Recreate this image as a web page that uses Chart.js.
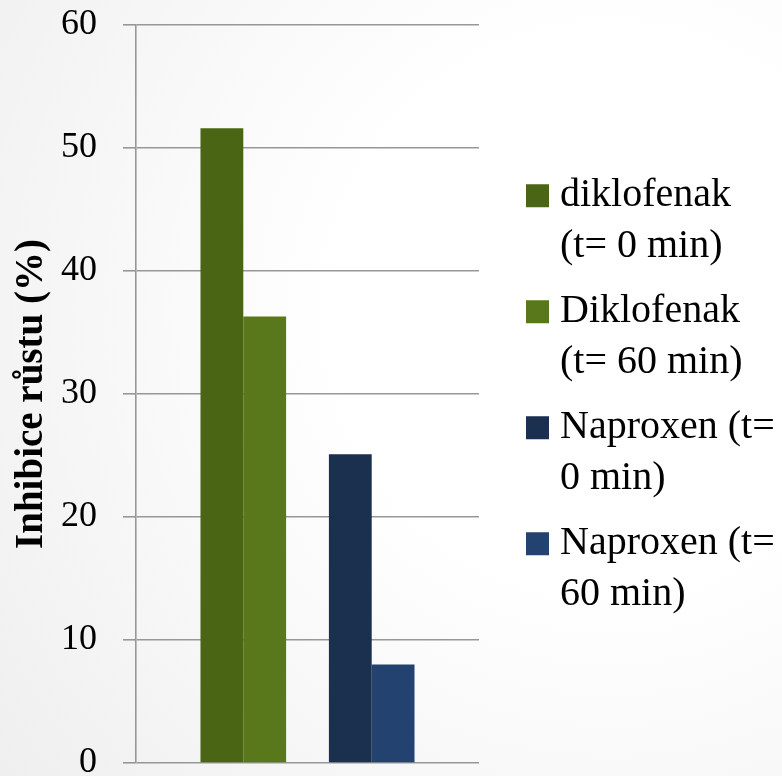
<!DOCTYPE html>
<html lang="cs">
<head>
<meta charset="utf-8">
<title>Inhibice růstu</title>
<script src="https://cdn.jsdelivr.net/npm/chart.js@4/dist/chart.umd.min.js"></script>
<style>
  html, body { margin: 0; padding: 0; }
  body {
    width: 782px; height: 776px; overflow: hidden;
    background: radial-gradient(circle at 78% 40%, #ffffff 35%, #ebebeb 115%);
  }
  #wrap { position: relative; width: 782px; height: 776px; }
</style>
</head>
<body>
<div id="wrap"><canvas id="chart" width="782" height="776"></canvas></div>
<script>
// Single category; series are drawn side by side, with an empty slot between the drugs
const categories = [''];
const diklofenak0 = [51.6];
const diklofenak60 = [36.3];
const emptySlot = [null];
const naproxen0 = [25.1];
const naproxen60 = [8.0];

const seriesNames = ['diklofenak (t= 0 min)', 'Diklofenak (t= 60 min)', 'Naproxen (t= 0 min)', 'Naproxen (t= 60 min)'];
const legendLines = [
  ['diklofenak', '(t= 0 min)'],
  ['Diklofenak', '(t= 60 min)'],
  ['Naproxen (t=', '0 min)'],
  ['Naproxen (t=', '60 min)']
];
const seriesColors = ['#4a6614', '#58781b', '#1b2f4f', '#244270'];
const yTickValues = [0, 10, 20, 30, 40, 50, 60];
const yTitle = 'Inhibice růstu (%)';

const gridColor = '#979797';
const serif = '"Liberation Serif", "Times New Roman", serif';

// Legend drawn to the right of the plot: square swatch + wrapped label lines
const sideLegend = {
  id: 'sideLegend',
  afterDraw(chart) {
    const { ctx, chartArea } = chart;
    const fontSize = 40, lineH = 50.5, gap = 15, box = 23;
    const blockH = legendLines.reduce((h, l) => h + l.length * lineH, 0) + gap * (legendLines.length - 1);
    let top = (chart.height - blockH) / 2 + 7;
    const boxX = chartArea.right + 47;
    const textX = boxX + box + 11;
    ctx.save();
    ctx.font = fontSize + 'px ' + serif;
    ctx.textAlign = 'left';
    ctx.textBaseline = 'middle';
    legendLines.forEach((lines, i) => {
      const firstMid = top + lineH / 2;
      ctx.fillStyle = seriesColors[i];
      ctx.fillRect(boxX, firstMid - box / 2, box, box);
      ctx.fillStyle = '#000000';
      lines.forEach((t, j) => ctx.fillText(t, textX, firstMid + j * lineH));
      top += lines.length * lineH + gap;
    });
    ctx.restore();
  }
};

const makeSet = (label, data, color) => ({
  label, data, backgroundColor: color, borderWidth: 0,
  categoryPercentage: 0.624, barPercentage: 1.0
});

new Chart(document.getElementById('chart'), {
  type: 'bar',
  data: {
    labels: categories,
    datasets: [
      makeSet(seriesNames[0], diklofenak0, seriesColors[0]),
      makeSet(seriesNames[1], diklofenak60, seriesColors[1]),
      makeSet('', emptySlot, 'rgba(0,0,0,0)'),
      makeSet(seriesNames[2], naproxen0, seriesColors[2]),
      makeSet(seriesNames[3], naproxen60, seriesColors[3])
    ]
  },
  options: {
    responsive: false,
    animation: false,
    layout: { padding: { left: 0, top: 25, right: 303, bottom: 13 } },
    plugins: {
      legend: { display: false },
      tooltip: { enabled: false }
    },
    scales: {
      x: { display: false },
      y: {
        min: 0, max: 60,
        afterBuildTicks(scale) { scale.ticks = yTickValues.map(v => ({ value: v })); },
        afterFit(scale) {
          scale.width = 136;
          scale.paddingTop = 0;
          scale.paddingBottom = 0;
        },
        grid: { color: gridColor, lineWidth: 1.6, tickLength: 13, tickColor: gridColor, drawTicks: true },
        border: { display: true, color: gridColor, width: 1.6 },
        ticks: {
          color: '#000000',
          padding: 26,
          font: { family: serif, size: 36, lineHeight: 0.7 }
        },
        title: {
          display: true,
          text: yTitle,
          color: '#000000',
          padding: { top: 9, bottom: 7 },
          font: { family: serif, size: 39, weight: 'bold', lineHeight: 1.2 }
        }
      }
    }
  },
  plugins: [sideLegend]
});
</script>
</body>
</html>
